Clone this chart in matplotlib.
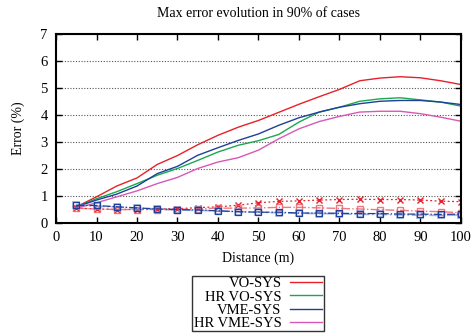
import matplotlib
matplotlib.use("Agg")
import matplotlib.pyplot as plt

plt.rcParams['font.family'] = ['Liberation Serif', 'DejaVu Serif']

distance = [5, 10, 15, 20, 25, 30, 35, 40, 45, 50, 55, 60, 65, 70, 75, 80, 85, 90, 95, 100]

vo_sys = [0.6, 0.97, 1.37, 1.67, 2.17, 2.5, 2.9, 3.25, 3.55, 3.8, 4.1, 4.4, 4.68, 4.95, 5.27, 5.37, 5.42, 5.38, 5.27, 5.13]
hr_vo_sys = [0.6, 0.9, 1.16, 1.46, 1.77, 2.02, 2.32, 2.63, 2.88, 3.05, 3.28, 3.74, 4.11, 4.29, 4.51, 4.6, 4.64, 4.56, 4.48, 4.33]
vme_sys = [0.6, 0.85, 1.07, 1.37, 1.83, 2.1, 2.51, 2.79, 3.06, 3.3, 3.62, 3.9, 4.11, 4.29, 4.42, 4.51, 4.54, 4.54, 4.48, 4.39]
hr_vme_sys = [0.55, 0.75, 0.97, 1.19, 1.46, 1.69, 2.02, 2.26, 2.42, 2.7, 3.12, 3.49, 3.76, 3.95, 4.11, 4.14, 4.14, 4.05, 3.92, 3.77]

low_red_x = [0.55, 0.52, 0.5, 0.5, 0.52, 0.53, 0.57, 0.6, 0.66, 0.75, 0.8, 0.82, 0.85, 0.87, 0.88, 0.87, 0.87, 0.85, 0.81, 0.79]
low_red_sq = [0.55, 0.52, 0.5, 0.5, 0.5, 0.5, 0.53, 0.55, 0.55, 0.56, 0.58, 0.58, 0.56, 0.54, 0.52, 0.49, 0.47, 0.44, 0.42, 0.38]
low_blue_sq = [0.65, 0.65, 0.6, 0.56, 0.52, 0.5, 0.48, 0.45, 0.42, 0.4, 0.4, 0.37, 0.37, 0.36, 0.35, 0.35, 0.33, 0.33, 0.32, 0.33]
low_lblue_sq = [0.68, 0.62, 0.6, 0.55, 0.52, 0.48, 0.47, 0.45, 0.42, 0.4, 0.38, 0.36, 0.35, 0.34, 0.32, 0.32, 0.3, 0.29, 0.28, 0.3]

labels = ['VO-SYS', 'HR VO-SYS', 'VME-SYS', 'HR VME-SYS']
colors = ['#e8202a', '#1aa84f', '#1f3f9a', '#d957b5']

fig = plt.figure(figsize=(4.73, 3.34), dpi=100)
ax = fig.add_axes([0.1184, 0.3323, 0.8562, 0.5657])

for ys, lab, c in zip([vo_sys, hr_vo_sys, vme_sys, hr_vme_sys], labels, colors):
    ax.plot(distance, ys, color=c, lw=1.0, label=lab)

ax.plot(distance, low_red_x, color='#e8202a', lw=0.9, ls=(0, (1.5, 2)), marker='x', ms=4, mew=1)
ax.plot(distance, low_red_sq, color='#f0606a', lw=1.0, ls='-.', marker='s', ms=4.5, mfc='none', mew=1, alpha=0.85)
ax.plot(distance, low_lblue_sq, color='#6f8fcf', lw=1.2, ls='-.', marker='s', ms=5, mfc='none', mew=1.2, alpha=0.7)
ax.plot(distance, low_blue_sq, color='#1f3f9a', lw=0.9, ls='-.', marker='s', ms=4, mfc='none', mew=0.9)

ax.set_xlim(0, 100)
ax.set_ylim(0, 7)
ax.set_xticks(range(0, 101, 10))
ax.set_yticks(range(0, 8))
ax.yaxis.grid(True, color='#555555', ls=(0, (1, 1.5)), lw=0.8)
ax.tick_params(direction='in', top=True, right=True, labelsize=10.5, length=4, width=1, pad=6)
for s in ax.spines.values():
    s.set_linewidth(1.5)

ax.set_title('Max error evolution in 90% of cases', fontsize=10, pad=12)
ax.set_xlabel('Distance (m)', fontsize=10, labelpad=5)
ax.set_ylabel('Error (%)', fontsize=10, labelpad=11)

leg = ax.legend(loc='upper center', bbox_to_anchor=(0.499, -0.279), fontsize=10.5,
                markerfirst=False, frameon=True, fancybox=False, edgecolor='black',
                handlelength=2.2, borderpad=0.1, labelspacing=0.0, handletextpad=0.6,
                borderaxespad=0)
leg.get_frame().set_linewidth(1.0)
for t in leg.get_texts():
    t.set_ha('right')
leg._legend_box.align = 'right'

fig.savefig('out.png', dpi=100)
